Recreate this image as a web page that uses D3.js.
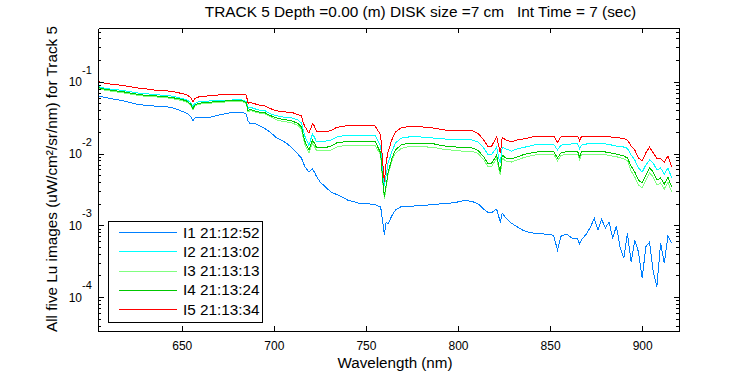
<!DOCTYPE html>
<html lang="en">
<head>
    <meta charset="UTF-8">
    <title>Track 5 Lu spectra</title>
    <!-- Load D3.js -->
    <script src="https://d3js.org/d3.v7.min.js"></script>
    <style>
        body { margin: 0; background: #fff; }
        svg text { font-family: "Liberation Sans", Arial, sans-serif; fill: #000; }
    </style>
</head>
<body>
    <div id="chart"></div>

    <script>
        // Wavelength grid (nm), shared by the five images
        var wavelengths = [
            605, 608, 611, 614, 617, 620, 623, 626, 629, 632,
            635, 638, 641, 644, 647, 650, 653, 655, 656, 657,
            659, 662, 665, 668, 671, 674, 677, 680, 683, 685,
            686, 687, 689, 692, 695, 698, 701, 704, 707, 710,
            713, 715, 716, 717, 719, 721, 722, 723, 725, 728,
            731, 734, 737, 740, 743, 746, 749, 752, 755, 758,
            759, 760, 761, 762, 763, 764, 766, 769, 772, 775,
            778, 781, 784, 787, 790, 793, 796, 799, 802, 805,
            808, 811, 814, 816, 818, 820, 821, 822, 823, 824,
            826, 829, 832, 835, 838, 841, 844, 847, 850, 852,
            854, 856, 859, 862, 865, 866, 867, 870, 872, 874,
            876, 878, 880, 882, 884, 886, 888, 890, 892, 894,
            896, 898, 900, 902, 904, 906, 908, 910, 912, 914,
            916
        ];

        // Lu (uW/cm2/sr/nm) for each image
        var luI1 = [
            .0632, .0606, .0587, .0566, .0551, .0530, .0505, .0481, .0474, .0466,
            .0459, .0455, .0449, .0440, .0417, .0388, .0360, .0322, .0286, .0312,
            .0319, .0319, .0319, .0333, .0347, .0360, .0372, .0375, .0375, .0355,
            .0283, .0262, .0266, .0245, .0223, .0199, .0169, .0154, .0138, .0119,
            .00984, .00865, .00737, .00649, .00553, .00608, .00553, .00486, .00405, .00341,
            .00291, .00269, .00248, .00225, .00215, .00204, .00201, .00198, .00195, .00179,
            .00118, .000732, .00111, .00104, .00118, .00135, .00163, .00181, .00183, .00185,
            .00187, .00190, .00192, .00195, .00198, .00202, .00204, .00209, .00218, .00220,
            .00213, .00198, .00168, .00153, .00148, .00163, .00167, .00135, .00112, .00147,
            .00126, .00107, .000955, .000859, .000806, .000780, .000768, .000756, .000756, .000709,
            .000452, .000709, .000756, .000659, .000644, .000548, .000624, .000774, .000955, .00125,
            .000859, .00121, .000916, .00111, .000666, .000977, .000497, .000347, .000774, .000307,
            .000624, .000424, .000183, .000503, .000584, .000226, .000140, .000566, .000296, .000709,
            .000562
        ];
        var luI2 = [
            .0852, .0817, .0791, .0779, .0759, .0742, .0719, .0696, .0685, .0674,
            .0659, .0653, .0642, .0632, .0612, .0584, .0556, .0505, .0452, .0497,
            .0522, .0530, .0539, .0544, .0551, .0556, .0556, .0562, .0556, .0530,
            .0424, .0444, .0424, .0403, .0397, .0360, .0338, .0326, .0317, .0312,
            .0293, .0266, .0212, .0169, .0131, .0187, .0169, .0149, .0149, .0149,
            .0154, .0169, .0175, .0181, .0181, .0181, .0181, .0181, .0178, .0127,
            .00589, .00353, .00502, .00737, .00865, .0105, .0140, .0163, .0169, .0171,
            .0171, .0169, .0167, .0164, .0162, .0159, .0159, .0158, .0158, .0157,
            .0154, .0144, .0119, .00984, .00953, .0112, .0123, .00894, .00737, .0123,
            .0116, .0108, .0116, .0121, .0125, .0131, .0134, .0134, .0134, .0134,
            .0112, .0131, .0134, .0136, .0136, .0116, .0131, .0136, .0136, .0136,
            .0136, .0136, .0136, .0134, .0130, .0127, .0125, .0123, .0118, .00953,
            .00812, .00628, .00553, .00691, .00812, .00737, .00589, .00628, .00518, .00628,
            .00456
        ];
        var luI3 = [
            .0799, .0766, .0741, .0725, .0707, .0689, .0667, .0647, .0632, .0626,
            .0618, .0606, .0598, .0587, .0568, .0548, .0517, .0466, .0404, .0459,
            .0484, .0494, .0500, .0510, .0517, .0522, .0527, .0527, .0522, .0497,
            .0378, .0397, .0384, .0366, .0360, .0327, .0297, .0283, .0275, .0265,
            .0246, .0219, .0164, .0131, .0102, .0140, .0127, .0112, .0110, .0110,
            .0112, .0123, .0127, .0131, .0131, .0131, .0131, .0131, .0129, .00957,
            .00428, .00235, .00342, .00502, .00628, .00786, .0100, .0117, .0123, .0125,
            .0125, .0124, .0123, .0122, .0117, .0114, .0112, .0110, .0108, .0108,
            .0106, .00999, .00812, .00669, .00648, .00785, .00865, .00627, .00502, .00865,
            .00785, .00761, .00812, .00865, .00908, .00945, .00972, .00972, .00972, .00972,
            .00793, .00945, .00972, .00972, .00972, .00820, .00963, .00981, .00981, .00981,
            .00981, .00963, .00963, .00945, .00917, .00902, .00874, .00846, .00793, .00571,
            .00471, .00364, .00331, .00428, .00535, .00471, .00364, .00389, .00320, .00400,
            .00291
        ];
        var luI4 = [
            .0825, .0791, .0766, .0749, .0730, .0712, .0689, .0668, .0653, .0647,
            .0638, .0626, .0618, .0606, .0587, .0566, .0534, .0481, .0417, .0474,
            .0500, .0510, .0517, .0527, .0534, .0539, .0544, .0544, .0539, .0513,
            .0391, .0410, .0397, .0378, .0372, .0338, .0317, .0302, .0293, .0283,
            .0262, .0234, .0181, .0144, .0112, .0154, .0140, .0123, .0121, .0121,
            .0127, .0140, .0144, .0149, .0149, .0149, .0149, .0149, .0147, .0102,
            .00456, .00250, .00365, .00535, .00670, .00838, .0112, .0131, .0138, .0140,
            .0140, .0139, .0138, .0136, .0131, .0127, .0125, .0123, .0121, .0121,
            .0119, .0110, .00894, .00737, .00714, .00865, .00953, .00691, .00553, .00953,
            .00865, .00838, .00894, .00953, .0100, .0103, .0106, .0106, .0106, .0106,
            .00865, .0103, .0106, .0106, .0106, .00894, .0105, .0107, .0107, .0107,
            .0107, .0105, .0105, .0103, .0100, .00984, .00953, .00923, .00865, .00670,
            .00553, .00427, .00388, .00502, .00628, .00553, .00427, .00456, .00376, .00470,
            .00341
        ];
        var luI5 = [
            .100, .0959, .0929, .0914, .0891, .0871, .0844, .0817, .0804, .0786,
            .0766, .0759, .0749, .0737, .0712, .0685, .0653, .0593, .0526, .0583,
            .0612, .0626, .0636, .0647, .0657, .0668, .0674, .0674, .0674, .0653,
            .0500, .0522, .0497, .0474, .0461, .0423, .0397, .0382, .0378, .0372,
            .0349, .0333, .0266, .0234, .0193, .0258, .0242, .0206, .0201, .0201,
            .0209, .0230, .0238, .0244, .0245, .0244, .0245, .0244, .0242, .0181,
            .00812, .00405, .00761, .0105, .0127, .0154, .0199, .0226, .0234, .0236,
            .0236, .0234, .0230, .0226, .0219, .0212, .0212, .0209, .0208, .0209,
            .0206, .0190, .0154, .0127, .0123, .0154, .0170, .0131, .0101, .0167,
            .0154, .0145, .0154, .0159, .0164, .0172, .0175, .0175, .0175, .0175,
            .0143, .0172, .0175, .0175, .0175, .0151, .0172, .0175, .0175, .0175,
            .0175, .0175, .0175, .0172, .0168, .0167, .0164, .0162, .0154, .0127,
            .0112, .00866, .00786, .0102, .0123, .0102, .00857, .00857, .00761, .00923,
            .00655
        ];

        var seriesNames = ["I1 21:12:52", "I2 21:13:02", "I3 21:13:13", "I4 21:13:24", "I5 21:13:34"];
        var seriesValues = [luI1, luI2, luI3, luI4, luI5];
        var seriesColors = ["#0080ff", "#00ffff", "#80ff80", "#00c800", "#ff0000"];

        // Tick values
        var xTicks = [650, 700, 750, 800, 850, 900];
        var yTicks = [1e-4, 1e-3, 1e-2, 1e-1];
        var yTickExponents = ["-4", "-3", "-2", "-1"];

        // Plot box
        var margin = {top: 28, left: 98};
        var width = 581;
        var height = 303;

        var svg = d3.select("#chart")
                    .append("svg")
                    .attr("width", 750)
                    .attr("height", 375);

        var g = svg.append("g")
                   .attr("transform", "translate(" + margin.left + "," + margin.top + ")");

        // Scales
        var x = d3.scaleLinear().domain([604.5, 920]).range([0, width]);
        var y = d3.scaleLog().domain([3.37e-5, 0.56]).range([height, 0]);

        // Minor ticks for the log axis (2..9 in every decade)
        var yMinor = [];
        [1e-5, 1e-4, 1e-3, 1e-2, 1e-1].forEach(function(k) {
            for (var m = 2; m <= 9; m++) {
                var v = m * k;
                if (v > y.domain()[0] && v < y.domain()[1]) yMinor.push(v);
            }
        });

        // Data lines, I1 first so that I5 sits on top
        var line = d3.line()
                     .x(function(d) { return x(d.w); })
                     .y(function(d) { return y(d.v); });

        seriesValues.forEach(function(vals, i) {
            var pts = wavelengths.map(function(w, j) { return {w: w, v: vals[j]}; });
            g.append("path")
             .datum(pts)
             .attr("d", line)
             .attr("fill", "none")
             .attr("stroke", seriesColors[i])
             .attr("stroke-width", 1)
             .attr("shape-rendering", "crispEdges");
        });

        // Axes (ticks point inward, box all round)
        function styleAxis(sel) {
            sel.selectAll("path, line").attr("stroke", "#000").attr("shape-rendering", "crispEdges");
            sel.selectAll("text").attr("fill", "#000");
        }

        g.append("g")
         .attr("transform", "translate(0," + height + ")")
         .call(d3.axisBottom(x).tickValues(xTicks).tickSizeInner(-5).tickSizeOuter(0).tickPadding(10.5))
         .call(styleAxis)
         .selectAll("text")
         .style("font-size", "12px");

        g.append("g")
         .call(d3.axisTop(x).tickValues(xTicks).tickSizeInner(-5).tickSizeOuter(0).tickFormat(""))
         .call(styleAxis);

        g.append("g")
         .call(d3.axisLeft(y).tickValues(yTicks).tickSizeInner(-5.5).tickSizeOuter(0).tickFormat(""))
         .call(styleAxis);
        g.append("g")
         .call(d3.axisLeft(y).tickValues(yMinor).tickSizeInner(-3).tickSizeOuter(0).tickFormat(""))
         .call(styleAxis);

        g.append("g")
         .attr("transform", "translate(" + width + ",0)")
         .call(d3.axisRight(y).tickValues(yTicks).tickSizeInner(-5.5).tickSizeOuter(0).tickFormat(""))
         .call(styleAxis);
        g.append("g")
         .attr("transform", "translate(" + width + ",0)")
         .call(d3.axisRight(y).tickValues(yMinor).tickSizeInner(-3).tickSizeOuter(0).tickFormat(""))
         .call(styleAxis);

        // y tick labels as 10 with a raised exponent
        var yLabels = g.selectAll(".ylab")
                       .data(yTicks)
                       .enter().append("g")
                       .attr("class", "ylab")
                       .attr("transform", function(d) { return "translate(-16," + y(d) + ")"; });
        yLabels.append("text")
               .attr("text-anchor", "end")
               .attr("y", 4.5)
               .style("font-size", "12px")
               .text("10");
        yLabels.append("text")
               .attr("x", 0)
               .attr("y", -8)
               .style("font-size", "11px")
               .text(function(d, i) { return yTickExponents[i]; });

        // Title and axis labels
        svg.append("text")
           .attr("x", 420.5)
           .attr("y", 17)
           .attr("text-anchor", "middle")
           .style("font-size", "15.4px")
           .style("white-space", "pre")
           .text("TRACK 5 Depth =0.00 (m) DISK size =7 cm   Int Time = 7 (sec)");

        svg.append("text")
           .attr("x", 395)
           .attr("y", 368)
           .attr("text-anchor", "middle")
           .style("font-size", "15.2px")
           .text("Wavelength (nm)");

        svg.append("text")
           .attr("transform", "translate(56.5,179) rotate(-90)")
           .attr("text-anchor", "middle")
           .style("font-size", "15.3px")
           .text("All five Lu images (uW/cm\u00B2/sr/nm) for Track 5");

        // Legend
        var legend = g.append("g").attr("transform", "translate(10,193)");
        legend.append("rect")
              .attr("x", 0.5).attr("y", 0.5)
              .attr("width", 154).attr("height", 101)
              .attr("fill", "#fff")
              .attr("stroke", "#000")
              .attr("shape-rendering", "crispEdges");

        var rows = legend.selectAll(".row")
                         .data(seriesNames)
                         .enter().append("g")
                         .attr("class", "row")
                         .attr("transform", function(d, i) { return "translate(0," + (11.5 + i * 19.25) + ")"; });
        rows.append("line")
            .attr("x1", 11).attr("x2", 69)
            .attr("y1", 0).attr("y2", 0)
            .attr("stroke", function(d, i) { return seriesColors[i]; })
            .attr("shape-rendering", "crispEdges");
        rows.append("text")
            .attr("x", 75)
            .attr("y", 5)
            .style("font-size", "15.3px")
            .text(function(d) { return d; });
    </script>
</body>
</html>
